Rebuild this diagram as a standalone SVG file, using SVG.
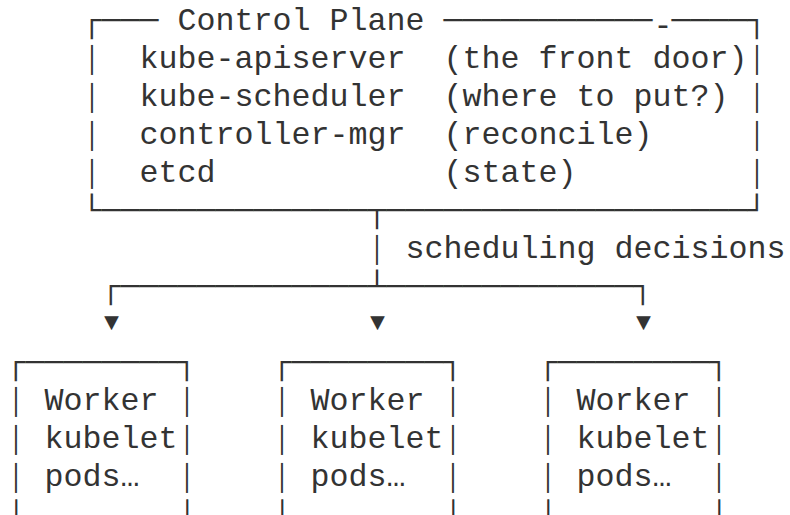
<svg xmlns="http://www.w3.org/2000/svg" width="790" height="515" viewBox="0 0 790 515">
  <style>
    text { font-family: "Liberation Mono", "DejaVu Sans Mono", monospace; font-size: 31.667px; fill: #333333; white-space: pre; }
    /* upright bars are set a little smaller so each row's bar stands apart */
    .v { font-size: 26.5px; text-anchor: middle; }
    /* last row of bars, only the upper part of the row is in view */
    .v-end { font-size: 13.5px; text-anchor: middle; stroke: #333333; stroke-width: 1; }
    .tip { font-size: 25px; text-anchor: middle; }
  </style>
  <rect width="790" height="515" fill="#ffffff"/>

  <!-- Control plane box: 19px character grid, 38px rows -->
  <g id="control-plane">
    <text x="82.5" y="29.5">┌───</text>
    <text x="177.5" y="29.5">Control Plane</text>
    <text x="443.5" y="29.5">───────────</text>
    <text x="653.5" y="35">-</text>
    <text x="671.5" y="29.5">────┐</text>
    <text class="v" x="92" y="67">│</text>
    <text x="139.5" y="67.5">kube-apiserver</text>
    <text x="443.5" y="67.5">(the front door)</text>
    <text class="v" x="757" y="67">│</text>
    <text class="v" x="92" y="105">│</text>
    <text x="139.5" y="105.5">kube-scheduler</text>
    <text x="443.5" y="105.5">(where to put?)</text>
    <text class="v" x="757" y="105">│</text>
    <text class="v" x="92" y="143">│</text>
    <text x="139.5" y="143.5">controller-mgr</text>
    <text x="443.5" y="143.5">(reconcile)</text>
    <text class="v" x="757" y="143">│</text>
    <text class="v" x="92" y="181">│</text>
    <text x="139.5" y="181.5">etcd</text>
    <text x="443.5" y="181.5">(state)</text>
    <text class="v" x="757" y="181">│</text>
    <text x="82.5" y="219.5">└──────────────</text>
    <text x="386.5" y="219.5">───────────────────┘</text>
  </g>

  <!-- Fan-out from the control plane to the workers -->
  <g id="connectors">
    <text x="367.5" y="219.5">┬</text>
    <text class="v" x="377" y="257">│</text>
    <text x="101.5" y="295.5">┌─────────────┴─────────────┐</text>
    <text class="tip" x="111.5" y="330">▼</text>
    <text class="tip" x="377.5" y="330">▼</text>
    <text class="tip" x="643.5" y="330">▼</text>
  </g>
  <g id="connector-label">
    <text x="405.5" y="257.5">scheduling decisions</text>
  </g>

  <!-- Worker nodes -->
  <g id="worker-1">
    <text x="6.5" y="371.5">┌────────┐</text>
    <text class="v" x="16" y="409">│</text>
    <text x="44.5" y="409.5">Worker</text>
    <text class="v" x="187" y="409">│</text>
    <text class="v" x="16" y="447">│</text>
    <text x="44.5" y="447.5">kubelet</text>
    <text class="v" x="187" y="447">│</text>
    <text class="v" x="16" y="485">│</text>
    <text x="44.5" y="485.5">pods…</text>
    <text class="v" x="187" y="485">│</text>
    <text class="v-end" x="16" y="511">│</text>
    <text class="v-end" x="187" y="511">│</text>
  </g>
  <g id="worker-2">
    <text x="272.5" y="371.5">┌────────┐</text>
    <text class="v" x="282" y="409">│</text>
    <text x="310.5" y="409.5">Worker</text>
    <text class="v" x="453" y="409">│</text>
    <text class="v" x="282" y="447">│</text>
    <text x="310.5" y="447.5">kubelet</text>
    <text class="v" x="453" y="447">│</text>
    <text class="v" x="282" y="485">│</text>
    <text x="310.5" y="485.5">pods…</text>
    <text class="v" x="453" y="485">│</text>
    <text class="v-end" x="282" y="511">│</text>
    <text class="v-end" x="453" y="511">│</text>
  </g>
  <g id="worker-3">
    <text x="538.5" y="371.5">┌────────┐</text>
    <text class="v" x="548" y="409">│</text>
    <text x="576.5" y="409.5">Worker</text>
    <text class="v" x="719" y="409">│</text>
    <text class="v" x="548" y="447">│</text>
    <text x="576.5" y="447.5">kubelet</text>
    <text class="v" x="719" y="447">│</text>
    <text class="v" x="548" y="485">│</text>
    <text x="576.5" y="485.5">pods…</text>
    <text class="v" x="719" y="485">│</text>
    <text class="v-end" x="548" y="511">│</text>
    <text class="v-end" x="719" y="511">│</text>
  </g>
</svg>
